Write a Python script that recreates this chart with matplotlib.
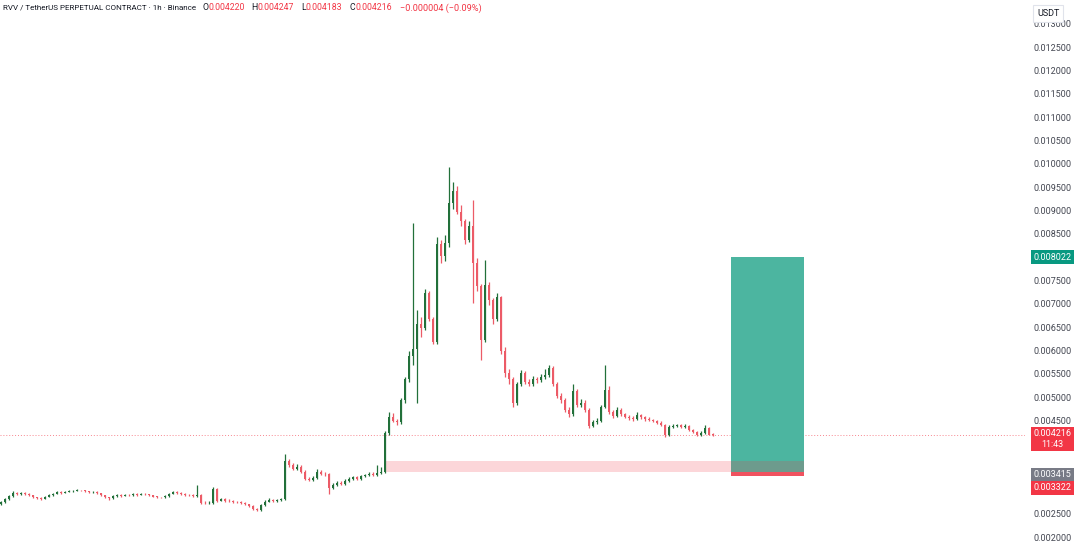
import matplotlib
matplotlib.use("Agg")
import matplotlib.pyplot as plt
from matplotlib.patches import Rectangle
import numpy as np

plt.rcParams['font.family'] = ['Roboto', 'DejaVu Sans']

# hourly candles, prices in micro-USDT (1e-6)
first_open = 2720
closes = [
    2780, 2830, 2900, 2960, 2940, 2970, 2950, 2920, 2880, 2850,
    2840, 2880, 2930, 2950, 2980, 2970, 2990, 3000, 3010, 3030,
    3020, 3000, 2980, 2990, 2960, 2920, 2870, 2850, 2900, 2920,
    2910, 2930, 2920, 2940, 2930, 2950, 2940, 2920, 2890, 2880,
    2870, 2900, 2950, 2980, 2970, 2950, 2930, 2920, 2910, 2930,
    2760, 2750, 2760, 3060, 2800, 2830, 2800, 2790, 2780, 2770,
    2760, 2720, 2680, 2620, 2600, 2700, 2780, 2820, 2800, 2810,
    2830, 3650, 3560, 3480, 3520, 3420, 3270, 3250, 3280, 3420,
    3380, 3370, 3080, 3140, 3180, 3160, 3230, 3270, 3300, 3260,
    3330, 3350, 3380, 3360, 3400, 3420, 4250, 4600, 4520, 4480,
    4950, 5400, 5900, 6050, 6600, 6500, 7250, 6700, 6200, 8300,
    8050, 8330, 9180, 9450, 9000, 8800, 8400, 8700, 7900, 7400,
    6250, 7430, 7100, 6700, 7170, 6000, 5540, 5400, 4900, 5300,
    5540, 5350, 5300, 5400, 5380, 5450, 5500, 5650, 5300, 5050,
    4950, 4750, 4650, 5150, 4850, 4900, 4750, 4400, 4480, 4520,
    4800, 5170, 4700, 4620, 4750, 4650, 4600, 4580, 4560, 4640,
    4590, 4560, 4530, 4510, 4470, 4430, 4200, 4390, 4400, 4420,
    4380, 4410, 4320, 4280, 4200, 4250, 4360, 4220, 4216,
]
highs = [
    2800, 2850, 2930, 3000, 2980, 2990, 2990, 2960, 2930, 2890,
    2870, 2900, 2950, 2970, 3000, 3000, 3010, 3020, 3030, 3050,
    3040, 3030, 3010, 3010, 3000, 2970, 2930, 2880, 2920, 2940,
    2940, 2950, 2950, 2960, 2960, 2970, 2970, 2950, 2930, 2900,
    2890, 2920, 2970, 3000, 3000, 2980, 2960, 2950, 2940, 3130,
    2950, 2790, 2790, 3090, 3070, 2860, 2850, 2830, 2810, 2800,
    2790, 2780, 2740, 2700, 2640, 2730, 2820, 2860, 2840, 2840,
    2860, 3800, 3700, 3600, 3580, 3560, 3450, 3300, 3320, 3470,
    3450, 3420, 3390, 3180, 3220, 3220, 3260, 3310, 3340, 3320,
    3360, 3380, 3420, 3410, 3560, 3520, 4300, 4700, 4680, 4560,
    5000, 5450, 6000, 8760, 6900, 6750, 7350, 7300, 6750, 8450,
    8400, 8500, 9955, 9640, 9550, 9150, 8850, 8800, 9250, 8000,
    7450, 7960, 7500, 7150, 7250, 7200, 6100, 5620, 5450, 5350,
    5600, 5580, 5420, 5480, 5460, 5520, 5620, 5700, 5680, 5350,
    5100, 5000, 4800, 5300, 5200, 4980, 4950, 4780, 4530, 4580,
    4850, 5710, 5250, 4750, 4800, 4790, 4690, 4640, 4620, 4700,
    4670, 4620, 4590, 4560, 4540, 4500, 4450, 4420, 4440, 4450,
    4440, 4440, 4430, 4340, 4300, 4290, 4420, 4380, 4247,
]
lows = [
    2700, 2760, 2810, 2880, 2920, 2920, 2930, 2900, 2860, 2830,
    2820, 2830, 2870, 2910, 2940, 2950, 2960, 2980, 2990, 3000,
    3000, 2980, 2960, 2970, 2940, 2900, 2850, 2820, 2840, 2890,
    2890, 2900, 2900, 2910, 2910, 2920, 2920, 2900, 2870, 2860,
    2850, 2860, 2890, 2940, 2950, 2930, 2910, 2900, 2890, 2890,
    2740, 2720, 2730, 2740, 2780, 2790, 2780, 2770, 2760, 2750,
    2740, 2700, 2660, 2600, 2570, 2590, 2680, 2770, 2780, 2780,
    2800, 2820, 3520, 3450, 3460, 3400, 3240, 3220, 3230, 3260,
    3350, 3340, 2950, 3050, 3120, 3130, 3140, 3210, 3250, 3240,
    3240, 3310, 3330, 3330, 3340, 3380, 3400, 4200, 4480, 4420,
    4450, 4900, 5350, 5700, 4900, 6300, 6450, 6650, 6150, 6150,
    7900, 7950, 8250, 9050, 8950, 8700, 8300, 8350, 7040, 7300,
    5820, 6200, 7000, 6600, 6650, 5950, 5450, 5300, 4810, 4850,
    5250, 5300, 5250, 5270, 5330, 5350, 5420, 5450, 5250, 5000,
    4900, 4700, 4600, 4620, 4800, 4820, 4700, 4370, 4380, 4450,
    4480, 4780, 4650, 4580, 4600, 4620, 4570, 4540, 4520, 4540,
    4560, 4520, 4500, 4480, 4440, 4400, 4160, 4180, 4360, 4380,
    4350, 4360, 4300, 4250, 4180, 4190, 4240, 4200, 4183,
]

target_price = 0.008022
entry_price = 0.003415
stop_price = 0.003322
zone_top = 0.003650
last_time = "11:43"

price_ticks = np.arange(0.0020, 0.01301, 0.0005)

c = np.array(closes) / 1e6
h = np.array(highs) / 1e6
l = np.array(lows) / 1e6
o = np.concatenate([[first_open / 1e6], c[:-1]])
idx = np.arange(len(c))
last = c[-1]

green = '#22703a'
red = '#ec5b67'

fig = plt.figure(figsize=(10.8, 5.54), dpi=100)
ax = fig.add_axes([0, 0, 1025 / 1080, 1])
ax.set_xlim(-0.25, 256)
ax.set_ylim(0.001658, 0.013536)
ax.axis('off')

up = c >= o
col = np.where(up, green, red)
ax.vlines(idx, l, h, colors=col, lw=0.9, zorder=3)
body = np.maximum(np.abs(c - o), 0.000012)
ax.bar(idx, body, bottom=np.minimum(o, c), width=0.65, color=col, lw=0, zorder=4)

# long position tool
box_l, box_r = 182.5, 200.75
ax.add_patch(Rectangle((box_l, entry_price), box_r - box_l, target_price - entry_price,
                       facecolor='#4cb5a0', edgecolor='none', zorder=2))
ax.add_patch(Rectangle((box_l, stop_price), box_r - box_l, entry_price - stop_price,
                       facecolor='#f0525f', edgecolor='none', zorder=2))
# demand zone
ax.add_patch(Rectangle((96, entry_price), box_r - 96, zone_top - entry_price,
                       facecolor='#f23645', alpha=0.2, edgecolor='none', zorder=2.5))

ax.axhline(last, color='#f23645', ls=(0, (1, 2)), lw=0.7, alpha=0.6, zorder=1)

# header, pieces laid out one after another
fig.canvas.draw()
renderer = fig.canvas.get_renderer()
pieces = [("RVV / TetherUS PERPETUAL CONTRACT · 1h · Binance", '#131722', 6, 5.8),
          ("O", '#131722', 0, 6.3), ("0.004220", '#f23645', 7, 6.3),
          ("H", '#131722', 0, 6.3), ("0.004247", '#f23645', 7, 6.3),
          ("L", '#131722', 0, 6.3), ("0.004183", '#f23645', 7, 6.3),
          ("C", '#131722', 0, 6.3), ("0.004216", '#f23645', 8, 6.3),
          ("−0.000004 (−0.09%)", '#f23645', 0, 6.6)]
xpx = 3
for s, colr, gap, fs in pieces:
    t = fig.text(xpx / 1080, 1 - 8 / 554, s, fontsize=fs, color=colr, va='center', ha='left')
    xpx += t.get_window_extent(renderer).width + gap

# price scale
sc = fig.add_axes([1025 / 1080, 0, 55 / 1080, 1])
sc.set_xlim(0, 1)
sc.set_ylim(ax.get_ylim())
sc.axis('off')
for p in price_ticks:
    if abs(p - 0.004) < 1e-9 or abs(p - 0.0035) < 1e-9:
        continue  # hidden behind the price tags
    sc.text(0.15, p, f"{p:.6f}", fontsize=6.5, color='#434651', va='center', ha='left', zorder=1)

def tag(y, s, bg, fg='white'):
    sc.text(0.5, y, s, fontsize=6.5, color=fg, va='center', ha='center', zorder=5,
            bbox=dict(boxstyle='square,pad=0.25', facecolor=bg, edgecolor='none'))

tag(target_price, "0.008022", '#089981')
tag(last - 0.00009, f"{last:.6f}\n{last_time}", '#f23645')
tag(entry_price - 0.00005, f"{entry_price:.6f}", '#787b86')
tag(entry_price - 0.00034, f"{stop_price:.6f}", '#f23645')
sc.text(0.42, 0.01325, "USDT", fontsize=6.5, color='#131722', va='center', ha='center', zorder=5,
        bbox=dict(boxstyle='square,pad=0.45', facecolor='white', edgecolor='#e0e3eb', lw=0.8))

fig.savefig('out.png', dpi=100, facecolor='white')
